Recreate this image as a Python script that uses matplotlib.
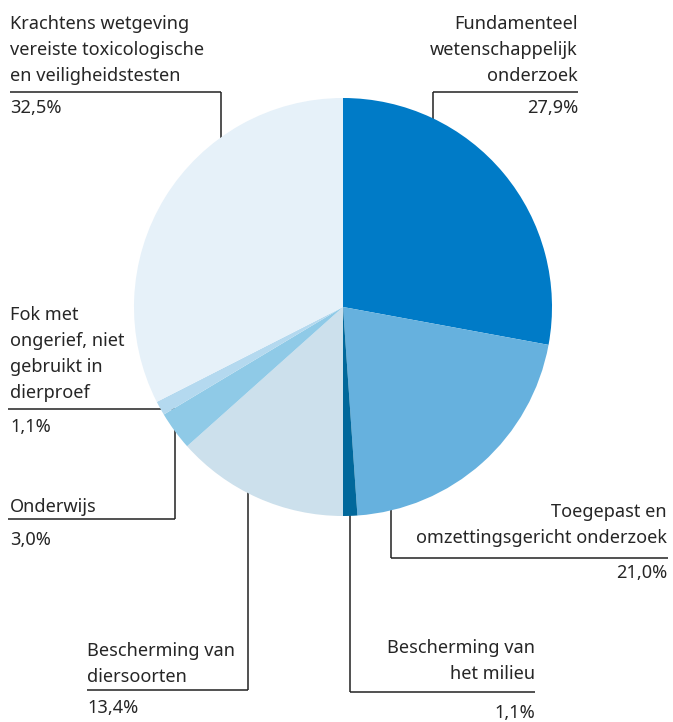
import matplotlib
matplotlib.use("Agg")
import matplotlib.pyplot as plt

categories = [
    "Fundamenteel\nwetenschappelijk\nonderzoek",
    "Toegepast en\nomzettingsgericht onderzoek",
    "Bescherming van\nhet milieu",
    "Bescherming van\ndiersoorten",
    "Onderwijs",
    "Fok met\nongerief, niet\ngebruikt in\ndierproef",
    "Krachtens wetgeving\nvereiste toxicologische\nen veiligheidstesten",
]
values = [27.9, 21.0, 1.1, 13.4, 3.0, 1.1, 32.5]
pct_labels = ["27,9%", "21,0%", "1,1%", "13,4%", "3,0%", "1,1%", "32,5%"]
colors = ["#007BC7", "#66B1DE", "#01689B", "#CCE0EC", "#8FCAE7", "#B4D9EF", "#E6F1F9"]

W, H = 673, 722
fig = plt.figure(figsize=(W / 100, H / 100), dpi=100)
ax = fig.add_axes([0, 0, 1, 1])

cx, cy, r = 343, 307, 209
ax.pie(values, colors=colors, startangle=-90, counterclock=True,
       center=(cx, cy), radius=r, wedgeprops=dict(linewidth=0), frame=True)
ax.set_xlim(0, W)
ax.set_ylim(H, 0)
ax.set_aspect("equal")
ax.axis("off")
for p in ax.patches:
    p.set_zorder(3)

lc = "#222222"
lw = 1.1
font = dict(family="Noto Sans", fontsize=13.1, color="#262626")

leaders = [
    [(433, 92), (578, 92)], [(433, 92), (433, 200)],
    [(391, 558), (668, 558)], [(391, 558), (391, 480)],
    [(350, 692), (535, 692)], [(350, 692), (350, 480)],
    [(87, 690), (248, 690)], [(248, 690), (248, 450)],
    [(8, 519), (175, 519)], [(175, 519), (175, 408)],
    [(8, 409), (200, 409)],
    [(10, 92), (221, 92)], [(221, 92), (221, 200)],
]
for seg in leaders:
    xs, ys = zip(*seg)
    ax.plot(xs, ys, color=lc, lw=lw, zorder=1, solid_capstyle="butt")

place = [
    (578, 81, 113, "right"),
    (667, 543, 578, "right"),
    (535, 679, 718, "right"),
    (87, 682, 713, "left"),
    (10, 512, 545, "left"),
    (10, 398, 432, "left"),
    (10, 81, 113, "left"),
]
lh = 26
for cat, pct, (x, yb, py, ha) in zip(categories, pct_labels, place):
    lines = cat.split("\n")
    n = len(lines)
    for i, line in enumerate(lines):
        ax.text(x, yb - (n - 1 - i) * lh, line, ha=ha, va="baseline", **font)
    ax.text(x, py, pct, ha=ha, va="baseline", **font)

fig.savefig("out.png", dpi=100)
